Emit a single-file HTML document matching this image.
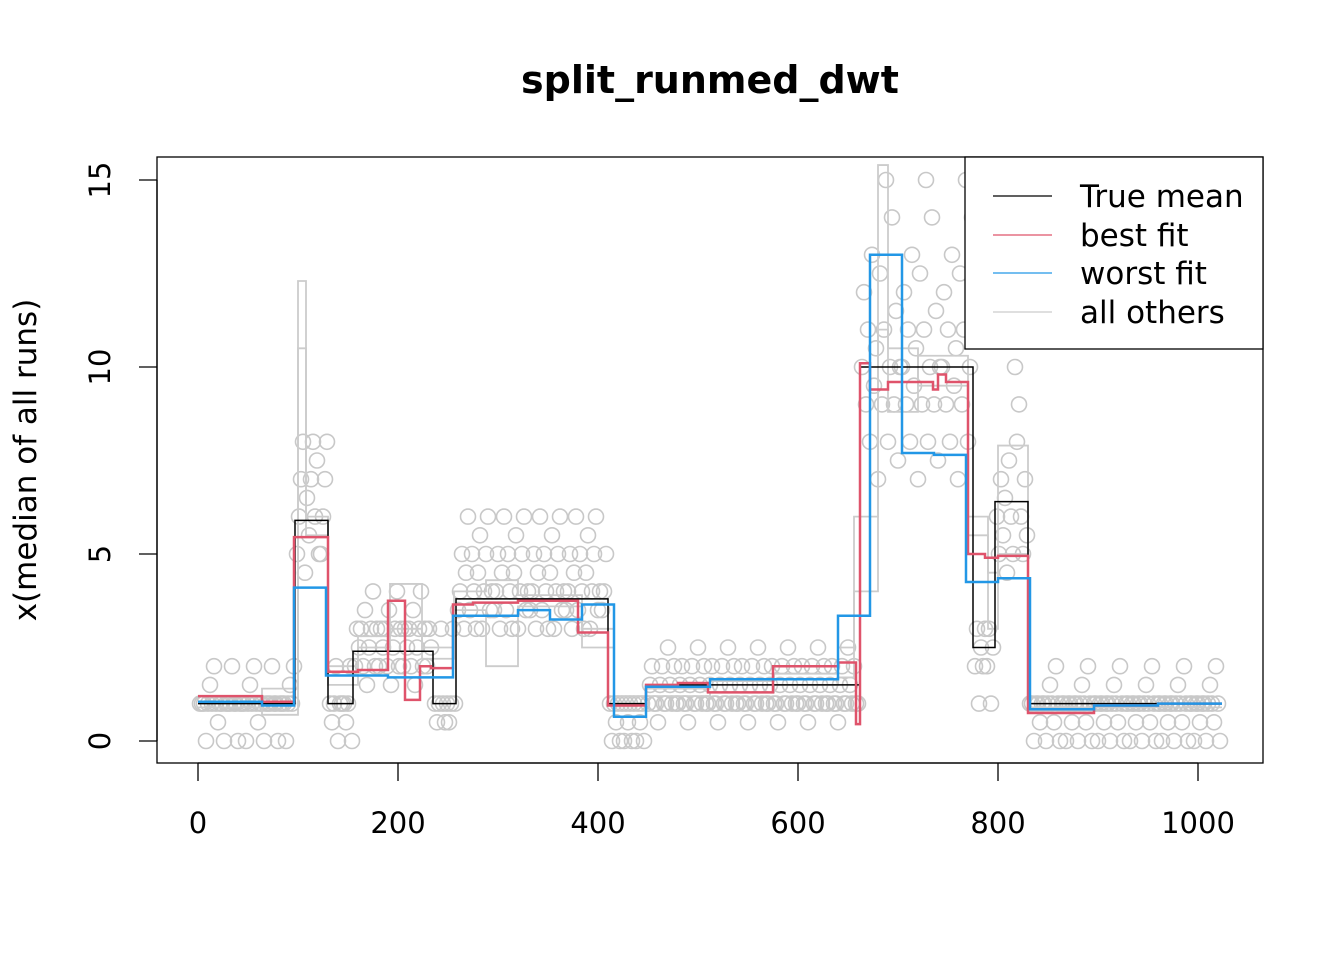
<!DOCTYPE html>
<html><head><meta charset="utf-8"><style>
body{margin:0;background:#fff}
svg{display:block;font-family:"DejaVu Sans","Liberation Sans",sans-serif}
</style></head><body>
<svg id="chart" width="1344" height="960">
<text x="710" y="93" text-anchor="middle" font-size="38" font-weight="bold">split_runmed_dwt</text>
<g id="pts"></g>
<g id="lines"></g>
<rect x="157" y="157" width="1106" height="606" fill="none" stroke="#000" stroke-width="1.3"/>
<g id="axes"></g>
<text transform="translate(36,460) rotate(-90)" text-anchor="middle" font-size="31">x(median of all runs)</text>
<g>
<rect x="965" y="157" width="298" height="192" fill="#fff" stroke="#000" stroke-width="1.3"/>
<line x1="993" y1="196" x2="1052" y2="196" stroke="#000" stroke-width="1.3"/>
<text x="1080" y="207" font-size="31">True mean</text>
<line x1="993" y1="235" x2="1052" y2="235" stroke="#DF536B" stroke-width="1.3"/>
<text x="1080" y="246" font-size="31">best fit</text>
<line x1="993" y1="273" x2="1052" y2="273" stroke="#2297E6" stroke-width="1.3"/>
<text x="1080" y="284" font-size="31">worst fit</text>
<line x1="993" y1="312" x2="1052" y2="312" stroke="#ccc" stroke-width="1.3"/>
<text x="1080" y="323" font-size="31">all others</text>
</g>
</svg>
<script>
const xTicks=[0,200,400,600,800,1000];
const yTicks=[0,5,10,15];
const trueBreaks=[0,97,130,155,235,258,410,448,662,775,797,830,1024];
const trueVals=[1,5.9,1,2.4,1,3.8,1,1.5,10,2.5,6.4,1];
const bestBreaks=[0,64,96,130,160,190,207,222,233,255,275,320,380,410,448,480,510,575,640,658,662,672,690,735,740,748,770,787,800,830,896,960,1024];
const bestVals=[1.2,1.05,5.45,1.85,1.9,3.75,1.1,2.0,1.95,3.65,3.7,3.75,2.9,0.95,1.5,1.55,1.3,2.0,2.1,0.45,10.1,9.4,9.6,9.4,9.8,9.6,5.0,4.9,4.95,0.75,0.95,1.0];
const worstBreaks=[0,64,96,128,190,255,320,352,384,416,448,512,640,672,704,736,768,800,832,896,960,1024];
const worstVals=[1.05,0.95,4.1,1.75,1.7,3.35,3.5,3.25,3.65,0.65,1.45,1.65,3.35,13.0,7.7,7.65,4.25,4.35,0.85,0.95,1.0];
const otherBreaks=[0,64,100,108,130,160,192,224,256,288,320,384,416,448,512,576,640,656,680,690,720,770,790,800,830,1024];
const other1=[1.2,1.4,12.3,5.5,2.0,2.5,4.2,2.2,4.0,4.3,3.9,3.0,1.2,1.4,1.6,1.8,2.5,6.0,15.4,10.5,9.5,6.0,4.5,7.9,1.0];
const other2=[0.9,0.7,10.5,6.0,1.5,2.8,3.0,2.5,3.5,2.0,3.6,2.5,1.0,1.2,1.3,1.5,1.7,4.0,11.0,8.8,10.3,5.5,3.0,5.0,0.9];
const segStart=[0,97,130,155,235,258,410,448,662,775,797,830];
const segEnd=[97,130,155,235,258,410,448,662,775,797,830,1024];
const segValues=[[1,1,1,0,1,1.5,1,2,1,0.5,1,1,0,1,1,1,2,1,1,0],[5,6,7,8,4.5,6.5,5.5,7,8,6,7.5,5],[1,0.5,1,2,0,1,1],[2,3,2.5,3,2,3.5,1.5,2.5,3,4,2,3],[1,0.5,1,3,1,0.5],[3.5,4,5,3,4.5,6,3.5,5,4,3,4.5,5.5,3,4,5,6,3.5,4],[1,0,1,0.5,1,0],[1,1.5,2,1,1,0.5,1.5,2,1,1,2.5,1.5,1,2,1],[10,12,9,11,8,13,9.5,10.5,7,12.5,9,11,15,8,10,14,9,11.5,7.5,10],[2,3,1,2.5,2,3],[6,5,7,5.5,6.5,4.5,7.5,6,5,10,8,9],[1,1,0,1,1,0.5,1,1,0,1,1.5,1,0.5,2,1,0]];
const X=v=>198+v*1.0, Y=v=>741-v*37.4;
const NS='http://www.w3.org/2000/svg';
function mk(t,a,p){const e=document.createElementNS(NS,t);for(const k in a)e.setAttribute(k,a[k]);p.appendChild(e);return e;}
const ax=document.getElementById('axes');
mk('line',{x1:X(0),x2:X(1000),y1:763,y2:763,stroke:'#000','stroke-width':1.3},ax);
xTicks.forEach(t=>{const l=mk('line',{x1:X(t),x2:X(t),y1:763,y2:781,stroke:'#000','stroke-width':1.3},ax);


const tx=mk('text',{x:X(t),y:833,'text-anchor':'middle','font-size':29},ax);tx.textContent=t;

});
mk('line',{x1:157,x2:157,y1:Y(0),y2:Y(15),stroke:'#000','stroke-width':1.3},ax);
yTicks.forEach(t=>{const l=mk('line',{x1:139,x2:157,y1:Y(t),y2:Y(t),stroke:'#000','stroke-width':1.3},ax);


const tx=mk('text',{transform:`translate(110,${Y(t)}) rotate(-90)`,'text-anchor':'middle','font-size':29},ax);tx.textContent=t;

});
const pg=document.getElementById('pts');
segStart.forEach((s,i)=>{const vals=segValues[i];let k=0;for(let x=s+2;x<segEnd[i];x+=2){const v=vals[k%vals.length];k++;
const c=mk('circle',{cx:X(x),cy:Y(v),r:7.5,fill:'none',stroke:'#c8c8c8','stroke-width':1.6},pg);

}});
const lg=document.getElementById('lines');
function step(br,vals,col,w,name){let d='';vals.forEach((v,i)=>{d+=(i?'L':'M')+X(br[i])+','+Y(v)+'L'+X(br[i+1])+','+Y(v);});
const p=mk('path',{d:d,fill:'none',stroke:col,'stroke-width':w},lg);

}
step(otherBreaks,other1,'#cccccc',1.8,'other-fit-1');
step(otherBreaks,other2,'#cccccc',1.8,'other-fit-2');
step(trueBreaks,trueVals,'#000',1.5,'true-mean-line');
step(bestBreaks,bestVals,'#DF536B',2.5,'best-fit-line');
step(worstBreaks,worstVals,'#2297E6',2.5,'worst-fit-line');
</script>
</body></html>
